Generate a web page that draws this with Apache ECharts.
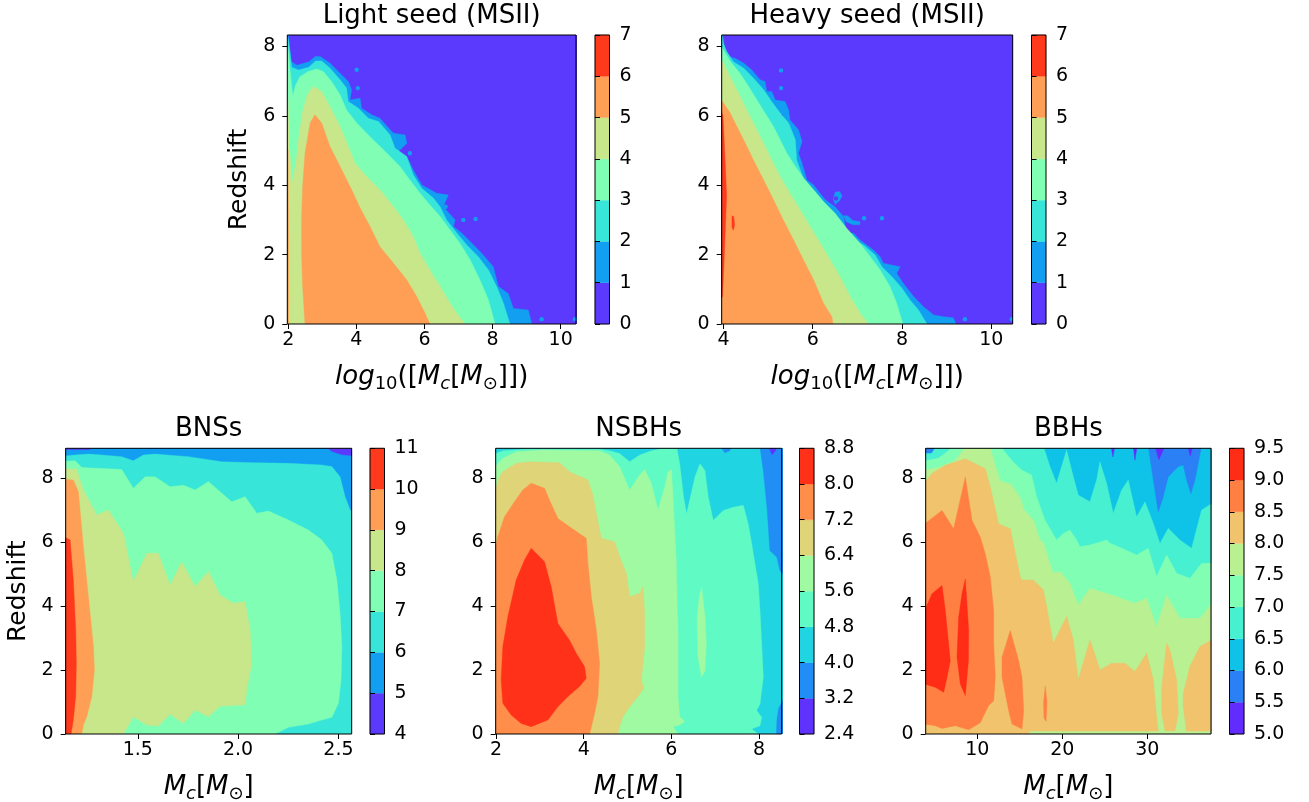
<!DOCTYPE html>
<html><head><meta charset="utf-8">
<script src="https://cdn.jsdelivr.net/npm/echarts@6/dist/echarts.min.js"></script>
<style>html,body{margin:0;padding:0;background:#fff}#c{width:1309px;height:802px}</style>
</head><body><div id="c"></div>
<script>
// ---------- colour scales (matplotlib "rainbow", sampled per band) ----------
const rain7 = ['#5b39fd','#129ff1','#37e6d8','#80ffb4','#c8e68a','#ff9f55','#ff391c'];
const rain8 = ['#6032fe','#208ef4','#20d4e1','#60fac5','#9ffaa2','#dfd478','#ff8e4a','#ff3219'];
const rain9 = ['#632cfe','#2b80f6','#0ec3e7','#47f0d1','#80ffb4','#b8f092','#f1c36c','#ff8042','#ff2c16'];

// ---------- contour levels (colour-bar ticks) ----------
const topLevels  = [0,1,2,3,4,5,6,7];
const bnsLevels  = [4,5,6,7,8,9,10,11];
const nsbhLevels = [2.4,3.2,4.0,4.8,5.6,6.4,7.2,8.0,8.8];
const bbhLevels  = [5.0,5.5,6.0,6.5,7.0,7.5,8.0,8.5,9.0,9.5];

// ---------- axis ranges and tick labels ----------
const lightXRange = [1.97,10.45], heavyXRange = [3.96,10.48], topYRange = [0,8.33];
const bnsXRange = [1.141,2.566], nsbhXRange = [1.99,8.52], bbhXRange = [3.93,37.5], botYRange = [0,8.92];
const lightXTicks = [2,4,6,8,10];
const heavyXTicks = [4,6,8,10];
const bnsXTicks   = [1.5,2.0,2.5];
const nsbhXTicks  = [2,4,6,8];
const bbhXTicks   = [10,20,30];
const topYTicks   = [0,2,4,6,8];
const botYTicks   = [0,2,4,6,8];

// ---------- Light seed (MSII): superlevel-set boundaries [log10 Mc, z] ----------
const light_ge1 = [[1.9,8.4],[2.0,8.33],[2.09,7.56],[2.26,7.46],[2.61,7.56],[2.80,7.72],[2.95,7.70],[3.22,7.52],[3.57,7.18],[3.76,6.99],[3.86,6.75],[3.81,6.46],[4.11,6.51],[4.15,6.22],[4.45,6.03],[4.69,5.93],[4.99,5.60],[5.09,5.50],[5.43,5.45],[5.48,5.21],[5.18,4.92],[5.53,4.73],[5.67,4.44],[5.92,4.01],[6.36,3.77],[6.70,3.72],[6.55,3.38],[6.90,3.00],[6.85,2.81],[7.09,2.62],[7.34,2.38],[7.68,2.04],[8.02,1.65],[8.17,1.08],[8.46,0.88],[8.61,0.45],[9.05,0.40],[9.15,0],[1.9,0]];
const light_ge2 = [[1.9,8.4],[2.0,8.2],[2.1,7.4],[2.3,7.32],[2.6,7.4],[2.80,7.58],[2.98,7.58],[3.22,7.38],[3.52,7.04],[3.71,6.8],[3.76,6.41],[4.06,6.22],[4.35,5.93],[4.65,5.84],[4.99,5.45],[5.13,5.07],[5.48,4.83],[5.67,4.3],[5.92,3.91],[6.26,3.63],[6.46,3.38],[6.65,3.0],[6.95,2.62],[7.24,2.28],[7.58,1.94],[7.88,1.56],[8.12,1.08],[8.32,0.6],[8.51,0],[1.9,0]];
const light_ge3 = [[1.9,8.1],[1.99,8.0],[2.05,7.33],[2.13,6.56],[2.2,6.85],[2.34,7.13],[2.59,7.28],[2.83,7.35],[3.03,7.28],[3.27,6.99],[3.52,6.61],[3.71,6.17],[4.01,5.79],[4.35,5.45],[4.69,5.12],[4.99,4.83],[5.28,4.54],[5.57,4.15],[5.87,3.77],[6.16,3.43],[6.46,3.10],[6.75,2.71],[7.04,2.33],[7.34,1.85],[7.63,1.27],[7.88,0.69],[8.07,0],[1.9,0]];
const light_ge4 = [[1.9,6.6],[1.99,6.5],[2.04,5.0],[2.12,4.06],[2.22,4.63],[2.31,5.40],[2.41,6.08],[2.56,6.61],[2.73,6.85],[2.98,6.70],[3.22,6.27],[3.52,5.69],[3.76,5.12],[3.96,4.63],[4.30,4.25],[4.69,3.87],[5.09,3.38],[5.38,3.0],[5.67,2.52],[5.87,2.04],[6.16,1.56],[6.46,1.08],[6.75,0.6],[6.95,0.31],[7.19,0],[1.9,0]];
const light_ge5 = [[2.49,0],[2.42,1.08],[2.39,2.04],[2.39,3.0],[2.42,3.96],[2.49,4.92],[2.64,5.79],[2.78,6.03],[2.98,5.79],[3.22,5.12],[3.52,4.54],[3.86,3.87],[4.11,3.34],[4.40,2.81],[4.69,2.23],[5.09,1.75],[5.48,1.27],[5.77,0.79],[5.97,0.40],[6.16,0]];
const light_ge5_edge = [[1.9,0],[2.01,0],[2.01,2.5],[1.995,5.0],[1.9,5.3]];
const light_blue_dots = [[4.01,7.33],[4.04,6.80],[5.57,4.92],[6.62,3.38],[7.14,3.0],[7.5,3.03],[8.22,0.67],[9.44,0.14],[10.42,0.14]];
const light_purple_dots = [[4.55,5.79]];

// ---------- Heavy seed (MSII) ----------
const heavy_ge1 = [[3.9,8.4],[3.985,8.34],[4.04,7.81],[4.11,7.71],[4.26,7.66],[4.45,7.52],[4.63,7.33],[4.82,7.04],[4.93,6.99],[4.97,6.70],[5.08,6.70],[5.16,6.46],[5.38,6.41],[5.46,6.17],[5.49,5.88],[5.68,5.60],[5.76,5.26],[5.68,4.92],[5.76,4.63],[5.87,4.15],[6.02,4.01],[6.13,3.82],[6.28,3.58],[6.50,3.38],[6.69,3.10],[6.76,2.62],[6.91,2.62],[7.06,2.42],[7.36,2.13],[7.51,1.94],[7.58,1.75],[7.96,1.65],[7.88,1.46],[8.03,1.17],[8.26,0.79],[8.48,0.5],[8.71,0.26],[8.93,0.21],[9.15,0.18],[9.21,0],[3.9,0]];
const heavy_blob1 = [[6.46,3.6],[6.5,3.8],[6.6,3.82],[6.66,3.7],[6.6,3.55],[6.5,3.45]];
const heavy_blob2 = [[6.69,3.12],[6.78,3.12],[6.9,2.98],[7.06,2.95],[7.05,2.86],[6.9,2.86],[6.75,2.95]];
const heavy_ge2 = [[3.9,8.4],[3.97,8.3],[4.0,8.08],[4.07,7.86],[4.22,7.56],[4.45,7.38],[4.67,7.09],[4.90,6.75],[5.08,6.41],[5.27,6.08],[5.46,5.79],[5.61,5.31],[5.64,4.73],[5.79,4.2],[5.98,3.87],[6.17,3.58],[6.39,3.24],[6.65,2.90],[6.84,2.47],[7.14,2.28],[7.40,1.99],[7.55,1.65],[7.77,1.37],[8.0,1.03],[8.18,0.69],[8.37,0.40],[8.56,0],[3.9,0]];
const heavy_ge3 = [[3.9,8.1],[4.0,7.9],[4.15,7.57],[4.37,7.23],[4.56,6.85],[4.75,6.46],[4.93,6.08],[5.12,5.69],[5.27,5.31],[5.42,4.92],[5.61,4.54],[5.83,4.15],[6.02,3.87],[6.24,3.53],[6.50,3.19],[6.76,2.76],[7.06,2.33],[7.29,1.94],[7.51,1.56],[7.73,1.08],[7.88,0.6],[8.02,0],[3.9,0]];
const heavy_ge4 = [[3.9,7.7],[4.0,7.52],[4.15,7.13],[4.34,6.65],[4.52,6.17],[4.71,5.69],[4.90,5.21],[5.08,4.73],[5.27,4.25],[5.49,3.77],[5.72,3.29],[5.94,2.81],[6.17,2.33],[6.39,1.85],[6.61,1.37],[6.84,0.79],[7.06,0.31],[7.25,0],[3.9,0]];
const heavy_ge5 = [[3.9,6.5],[4.0,6.37],[4.15,6.08],[4.30,5.69],[4.49,5.21],[4.67,4.73],[4.90,4.15],[5.12,3.58],[5.34,3.0],[5.57,2.42],[5.79,1.85],[6.02,1.27],[6.24,0.6],[6.43,0.21],[6.45,0],[3.9,0]];
const heavy_ge6 = [[3.9,6.3],[3.99,6.0],[4.04,4.6],[4.07,3.7],[4.04,2.7],[4.01,1.7],[3.98,0.8],[3.9,0.6]];
const heavy_ge6_blob = [[4.19,3.12],[4.23,3.1],[4.25,2.85],[4.22,2.7],[4.19,2.78]];
const heavy_blue_dots = [[5.29,7.31],[5.29,6.80],[7.15,3.05],[7.55,3.05],[8.22,0.66],[9.41,0.14],[10.46,0.14]];
const heavy_purple_dots = [[5.29,5.98],[6.52,3.62]];

// ---------- BNSs [Mc, z] ----------
const bns_ge5 = [[1.1,0],[1.1,8.87],[1.26,8.87],[1.29,9.0],[2.43,9.0],[2.467,8.81],[2.517,8.71],[2.6,8.66],[2.6,0]];
const bns_ge6 = [[1.1,0],[1.1,8.66],[1.188,8.71],[1.254,8.74],[1.321,8.71],[1.420,8.66],[1.478,8.53],[1.528,8.71],[1.586,8.74],[1.752,8.66],[1.919,8.50],[2.085,8.47],[2.251,8.45],[2.417,8.40],[2.467,8.35],[2.508,8.03],[2.533,7.41],[2.558,6.99],[2.6,6.85],[2.6,0]];
const bns_ge7 = [[1.1,0],[1.1,8.50],[1.188,8.53],[1.221,8.32],[1.420,8.26],[1.478,7.67],[1.537,8.03],[1.586,8.03],[1.661,7.72],[1.728,7.77],[1.786,7.62],[1.852,7.88],[1.968,7.25],[2.035,7.41],[2.093,6.89],[2.151,6.96],[2.251,6.68],[2.350,6.37],[2.417,6.06],[2.467,5.64],[2.492,4.81],[2.508,3.77],[2.517,2.73],[2.513,1.69],[2.500,0.96],[2.467,0.52],[2.417,0.44],[2.350,0.31],[2.251,0.21],[2.184,0]];
const bns_ge8 = [[1.1,0],[1.1,8.32],[1.196,8.26],[1.229,7.62],[1.296,6.84],[1.354,6.99],[1.429,6.26],[1.478,4.76],[1.545,5.64],[1.603,5.64],[1.661,4.65],[1.719,5.38],[1.786,4.60],[1.852,5.07],[1.910,4.34],[1.977,4.08],[2.035,4.13],[2.060,3.25],[2.068,2.21],[2.043,1.37],[2.035,0.91],[1.910,0.87],[1.852,0.54],[1.786,0.75],[1.728,0.33],[1.661,0.62],[1.603,0.25],[1.545,0.28],[1.478,0.54],[1.429,0]];
const bns_ge9 = [[1.1,0],[1.1,7.98],[1.179,7.93],[1.204,7.57],[1.229,5.85],[1.254,4.29],[1.279,2.73],[1.284,2.00],[1.271,1.17],[1.246,0.54],[1.229,0.28],[1.221,0]];
const bns_ge10 = [[1.1,0],[1.1,6.26],[1.163,6.06],[1.179,4.81],[1.191,3.25],[1.194,2.21],[1.191,1.17],[1.179,0.44],[1.168,0]];

// ---------- NSBHs ----------
const nsbh_lt40_a = [[8.02,9.0],[8.10,8.23],[8.19,6.98],[8.25,5.73],[8.41,5.52],[8.48,5.10],[8.6,4.9],[8.6,9.0]];
const nsbh_lt40_b = [[8.6,1.2],[8.45,0.8],[8.41,0.42],[8.40,0],[8.6,0]];
const nsbh_lt40_c = [[7.107,9.0],[7.221,8.78],[7.335,8.84],[7.373,9.0]];
const nsbh_lt32 = [[8.22,9.0],[8.30,8.72],[8.38,8.85],[8.41,9.0]];
const nsbh_ge48 = [[1.9,0],[1.9,8.71],[2.152,8.84],[2.686,8.89],[4.363,8.89],[4.591,8.84],[4.820,8.76],[5.049,8.50],[5.277,8.71],[5.544,8.84],[6.116,9.0],[6.19,8.45],[6.28,7.41],[6.348,6.875],[6.538,8.02],[6.652,8.44],[6.767,8.23],[6.843,7.40],[6.957,6.67],[7.186,6.98],[7.414,7.08],[7.643,7.14],[7.757,6.56],[7.835,5.94],[7.911,5.31],[7.986,4.69],[8.025,3.85],[8.064,2.81],[8.10,1.77],[8.025,0.94],[7.95,0.73],[8.064,0.52],[8.025,0.26],[7.835,0.16],[7.986,0]];
const nsbh_ge56 = [[1.9,0],[1.9,8.24],[2.152,8.61],[2.457,8.81],[3.067,8.87],[4.363,8.84],[4.591,8.71],[4.820,8.35],[5.049,7.62],[5.277,8.09],[5.392,8.26],[5.544,7.83],[5.697,6.99],[5.849,7.72],[5.925,8.19],[6.002,8.26],[6.040,7.41],[6.078,6.37],[6.116,5.33],[6.131,4.29],[6.154,3.25],[6.154,2.21],[6.154,1.17],[6.192,0.54],[6.306,0.39],[6.192,0.28],[6.040,0.23],[6.154,0]];
const nsbh_ge56_island = [[6.69,4.58],[6.77,3.65],[6.80,2.81],[6.77,1.98],[6.69,1.77],[6.61,2.40],[6.59,3.65],[6.64,4.27]];
const nsbh_ge64 = [[1.9,0],[1.9,7.30],[2.076,8.03],[2.152,8.19],[2.457,8.45],[2.762,8.50],[3.448,8.47],[3.677,8.19],[4.096,7.93],[4.210,7.46],[4.287,6.89],[4.401,6.11],[4.706,6.00],[4.820,5.54],[4.973,5.02],[5.049,4.29],[5.277,4.39],[5.354,4.60],[5.392,3.77],[5.392,2.73],[5.316,1.69],[5.369,1.43],[5.239,1.17],[5.049,0.85],[4.896,0.54],[4.820,0.23],[4.782,0]];
const nsbh_ge72 = [[1.9,0],[1.9,5.33],[2.038,6.16],[2.191,6.78],[2.419,7.25],[2.610,7.62],[2.800,7.83],[3.105,7.67],[3.220,7.30],[3.410,6.73],[3.677,6.47],[4.058,6.11],[4.096,5.33],[4.172,4.29],[4.287,3.25],[4.363,2.21],[4.325,1.17],[4.248,0.65],[4.134,0]];
const nsbh_ge80 = [[2.800,5.80],[3.105,5.38],[3.258,4.60],[3.410,3.45],[3.677,2.93],[3.829,2.52],[4.020,2.10],[4.058,1.74],[3.905,1.48],[3.639,1.17],[3.410,0.85],[3.181,0.44],[2.800,0.23],[2.572,0.33],[2.343,0.59],[2.152,0.96],[2.114,1.69],[2.152,2.73],[2.267,3.66],[2.457,4.81],[2.648,5.43]];

// ---------- BBHs ----------
const bbh_lt60_a = [[30.12,9.0],[30.59,8.14],[31.29,6.94],[31.88,7.41],[32.47,8.03],[33.65,8.35],[34.24,8.40],[34.63,7.93],[35.14,7.51],[35.61,7.93],[36.0,8.45],[36.39,9.0]];
const bbh_lt60_b = [[3.8,9.0],[3.8,8.78],[4.6,8.78],[5.2,9.0]];
const bbh_lt55_a = [[30.9,9.0],[31.37,8.56],[31.88,8.87],[32.0,9.0]];
const bbh_lt55_b = [[34.75,9.0],[35.06,8.68],[35.37,9.0]];
const bbh_lt55_c = [[25.73,9.0],[25.96,8.65],[26.2,9.0]];
const bbh_lt55_d = [[28.35,9.0],[28.55,8.55],[28.82,9.0]];
const bbh_ge65 = [[3.8,0],[3.8,8.75],[4.63,8.76],[5.22,9.0],[17.76,9.0],[18.55,8.35],[19.33,7.83],[19.92,8.35],[20.51,8.87],[21.10,8.24],[21.88,7.46],[23.25,7.25],[24.04,7.93],[24.43,8.50],[25.22,7.83],[26.0,6.89],[26.98,7.62],[27.76,7.93],[28.75,6.78],[29.73,7.25],[30.71,6.58],[31.49,5.95],[32.47,6.42],[33.84,6.06],[35.22,5.80],[36.39,6.99],[37.6,7.20],[37.6,0]];
const bbh_ge70 = [[3.8,0],[3.8,8.53],[5.41,8.61],[6.59,8.84],[7.18,9.0],[12.67,9.0],[14.04,8.55],[15.22,8.24],[16.39,8.09],[16.98,7.41],[17.96,6.68],[19.33,6.06],[20.12,6.26],[20.90,6.37],[21.69,6.06],[22.08,5.85],[23.26,5.9],[25.22,6.06],[25.6,5.96],[27.0,5.8],[28.75,5.59],[30.12,5.80],[31.1,4.92],[32.28,5.59],[33.46,5.02],[35.02,4.86],[36.4,5.33],[37.6,5.33],[37.6,0]];
const bbh_ge75 = [[3.8,0],[3.8,8.24],[5.41,8.32],[7.37,8.53],[8.35,8.87],[8.55,9.0],[11.5,9.0],[12.1,8.4],[12.7,7.9],[14.0,7.8],[15.1,7.35],[15.5,7.0],[16.6,6.68],[17.37,6.06],[17.76,6.0],[18.94,5.02],[19.73,5.07],[20.9,4.71],[21.88,4.03],[23.26,4.55],[24.44,4.45],[26.4,4.29],[27.38,4.19],[28.55,4.08],[29.93,4.24],[31.1,3.35],[32.28,4.34],[33.85,3.61],[36.2,3.61],[37.6,4.08],[37.6,0]];
const bbh_ge80 = [[3.8,0],[3.8,7.85],[4.67,8.13],[6.24,8.39],[8.59,8.59],[10.94,8.28],[11.53,7.71],[12.51,6.56],[13.88,6.41],[15.06,4.90],[15.22,4.81],[16.59,4.81],[17.76,4.5],[18.16,3.98],[18.94,2.83],[20.52,3.67],[21.29,2.94],[21.88,1.69],[23.26,2.94],[24.44,2.0],[25.81,2.21],[27.38,2.21],[28.55,1.95],[29.93,2.52],[30.71,1.69],[31.1,0.54],[31.3,0.09],[16.2,0.09],[16.0,0]];
const bbh_ge80_lobeA = [[31.88,1.90],[32.28,2.83],[32.67,2.63],[33.46,1.69],[33.65,0.65],[33.26,0.1],[32.08,0.1],[31.69,0.65],[31.69,1.4]];
const bbh_ge80_lobeB = [[34.24,1.27],[35.02,2.11],[36.2,2.73],[37.6,2.94],[37.6,0.09],[34.6,0.09],[34.24,0.85]];
const bbh_ge85 = [[3.8,0.31],[3.8,6.56],[5.85,6.98],[7.22,6.41],[8.59,8.02],[9.38,6.67],[10.35,6.15],[10.94,5.63],[11.53,4.9],[11.93,3.85],[11.93,2.81],[12.12,1.77],[11.93,1.04],[11.34,0.89],[10.35,0.35],[8.99,0.13],[7.41,0.26],[5.85,0.17],[5.06,0.26]];
const bbh_ge85_lobe = [[13.88,3.23],[14.87,2.29],[15.26,1.77],[15.46,0.73],[15.26,0.16],[14.08,0.31],[13.69,0.73],[12.91,1.77],[12.91,2.40]];
const bbh_ge85_spike = [[18.0,1.5],[18.2,1.0],[18.1,0.4],[17.85,0.5],[17.8,1.0]];
const bbh_ge90_a = [[3.8,3.85],[4.67,4.38],[5.85,4.64],[6.24,3.85],[6.63,2.81],[6.82,2.29],[6.44,1.77],[6.05,1.30],[5.06,1.46],[3.8,1.56]];
const bbh_ge90_b = [[8.59,4.84],[8.99,3.23],[8.96,2.29],[8.59,1.20],[8.0,1.56],[7.61,2.40],[7.81,3.65],[8.2,4.38]];

// ---------- layer stacks (drawn bottom to top; c = colour band index) ----------
const lightLayers = [{c:0,full:true},{c:1,poly:light_ge1},{c:1,dots:light_blue_dots},{c:0,dots:light_purple_dots},{c:2,poly:light_ge2},{c:3,poly:light_ge3},{c:4,poly:light_ge4},{c:5,poly:light_ge5},{c:5,poly:light_ge5_edge}];
const heavyLayers = [{c:0,full:true},{c:1,poly:heavy_ge1},{c:1,poly:heavy_blob1},{c:1,poly:heavy_blob2},{c:1,dots:heavy_blue_dots},{c:0,dots:heavy_purple_dots},{c:2,poly:heavy_ge2},{c:3,poly:heavy_ge3},{c:4,poly:heavy_ge4},{c:5,poly:heavy_ge5},{c:6,poly:heavy_ge6},{c:6,poly:heavy_ge6_blob}];
const bnsLayers = [{c:0,full:true},{c:1,poly:bns_ge5},{c:2,poly:bns_ge6},{c:3,poly:bns_ge7},{c:4,poly:bns_ge8},{c:5,poly:bns_ge9},{c:6,poly:bns_ge10}];
const nsbhLayers = [{c:2,full:true},{c:1,poly:nsbh_lt40_a},{c:1,poly:nsbh_lt40_b},{c:1,poly:nsbh_lt40_c},{c:0,poly:nsbh_lt32},{c:3,poly:nsbh_ge48},{c:4,poly:nsbh_ge56},{c:4,poly:nsbh_ge56_island},{c:5,poly:nsbh_ge64},{c:6,poly:nsbh_ge72},{c:7,poly:nsbh_ge80}];
const bbhLayers = [{c:2,full:true},{c:1,poly:bbh_lt60_a},{c:1,poly:bbh_lt60_b},{c:0,poly:bbh_lt55_a},{c:0,poly:bbh_lt55_b},{c:0,poly:bbh_lt55_c},{c:0,poly:bbh_lt55_d},{c:3,poly:bbh_ge65},{c:4,poly:bbh_ge70},{c:5,poly:bbh_ge75},{c:6,poly:bbh_ge80},{c:6,poly:bbh_ge80_lobeA},{c:6,poly:bbh_ge80_lobeB},{c:7,poly:bbh_ge85},{c:7,poly:bbh_ge85_lobe},{c:7,poly:bbh_ge85_spike},{c:8,poly:bbh_ge90_a},{c:8,poly:bbh_ge90_b}];

// ---------- layout ----------
const FONT = 'DejaVu Sans';
const fmt1 = v => Number(v).toFixed(1);
const panels = [
  {title:'Light seed (MSII)', xr:lightXRange, yr:topYRange, xt:lightXTicks, yt:topYTicks, lv:topLevels, col:rain7, layers:lightLayers,
   grid:{left:287.3, top:35, width:288.7, height:289}, cbLeft:595, ylabel:true, xl:'log', xfmt:null, cfmt:null},
  {title:'Heavy seed (MSII)', xr:heavyXRange, yr:topYRange, xt:heavyXTicks, yt:topYTicks, lv:topLevels, col:rain7, layers:heavyLayers,
   grid:{left:721.7, top:35, width:291, height:289}, cbLeft:1031.5, ylabel:false, xl:'log', xfmt:null, cfmt:null},
  {title:'BNSs', xr:bnsXRange, yr:botYRange, xt:bnsXTicks, yt:botYTicks, lv:bnsLevels, col:rain7, layers:bnsLayers,
   grid:{left:65.7, top:448.3, width:286, height:285.7}, cbLeft:370, ylabel:true, xl:'mc', xfmt:fmt1, cfmt:null},
  {title:'NSBHs', xr:nsbhXRange, yr:botYRange, xt:nsbhXTicks, yt:botYTicks, lv:nsbhLevels, col:rain8, layers:nsbhLayers,
   grid:{left:495.7, top:448.3, width:286, height:285.7}, cbLeft:799.5, ylabel:false, xl:'mc', xfmt:null, cfmt:fmt1},
  {title:'BBHs', xr:bbhXRange, yr:botYRange, xt:bbhXTicks, yt:botYTicks, lv:bbhLevels, col:rain9, layers:bbhLayers,
   grid:{left:925.7, top:448.3, width:285.3, height:285.7}, cbLeft:1229.5, ylabel:false, xl:'mc', xfmt:null, cfmt:fmt1}
];

const grids = [], xAxes = [], yAxes = [], series = [], graphics = [];
const labelStyle = {fontSize:19, fontFamily:FONT, color:'#000'};
const tickStyle = {color:'#000', width:1};

panels.forEach((p) => {
  // main plot
  const gi = grids.length;
  grids.push(Object.assign({show:true, borderColor:'#000', borderWidth:1, backgroundColor:'rgba(0,0,0,0)', z:10}, p.grid));
  xAxes.push({type:'value', gridIndex:gi, min:p.xr[0], max:p.xr[1], axisLine:{show:false}, splitLine:{show:false},
    axisTick:{show:true, length:5, customValues:p.xt, lineStyle:tickStyle},
    axisLabel:Object.assign({show:true, customValues:p.xt, margin:7, formatter:p.xfmt || (v => String(v))}, labelStyle), z:11});
  yAxes.push({type:'value', gridIndex:gi, min:p.yr[0], max:p.yr[1], axisLine:{show:false}, splitLine:{show:false},
    axisTick:{show:true, length:5, customValues:p.yt, lineStyle:tickStyle},
    axisLabel:Object.assign({show:true, customValues:p.yt, margin:12, formatter:v => String(v)}, labelStyle), z:11,
    name: p.ylabel ? 'Redshift' : '', nameLocation:'middle', nameGap:35,
    nameTextStyle:{fontSize:25, fontFamily:FONT, color:'#000'}});
  const items = [];
  p.layers.forEach(L => {
    if (L.full) items.push({c:L.c, poly:[[p.xr[0]-1,p.yr[0]-1],[p.xr[1]+1,p.yr[0]-1],[p.xr[1]+1,p.yr[1]+1],[p.xr[0]-1,p.yr[1]+1]]});
    else if (L.dots) L.dots.forEach(d => items.push({c:L.c, dot:d}));
    else items.push({c:L.c, poly:L.poly});
  });
  const cols = p.col;
  series.push({type:'custom', xAxisIndex:gi, yAxisIndex:gi, clip:true, silent:true, animation:false,
    data: items.map(it => it.dot ? [it.dot[0], it.dot[1]] : [it.poly[0][0], it.poly[0][1]]),
    renderItem: (params, api) => {
      const it = items[params.dataIndex];
      const fill = cols[it.c];
      if (it.dot) {
        const q = api.coord(it.dot);
        return {type:'circle', shape:{cx:q[0], cy:q[1], r:2.2}, style:{fill:fill}};
      }
      return {type:'polygon', shape:{points: it.poly.map(pt => api.coord(pt))}, style:{fill:fill, stroke:fill, lineWidth:0.4}};
    }});

  // colour bar
  const ci = grids.length;
  grids.push({show:true, borderColor:'#000', borderWidth:1, backgroundColor:'rgba(0,0,0,0)', z:10,
    left:p.cbLeft, top:p.grid.top, width:14.5, height:p.grid.height});
  xAxes.push({type:'value', gridIndex:ci, min:0, max:1, show:false});
  yAxes.push({type:'value', gridIndex:ci, position:'right', min:p.lv[0], max:p.lv[p.lv.length-1],
    axisLine:{show:false}, splitLine:{show:false},
    axisTick:{show:true, length:5, customValues:p.lv, lineStyle:tickStyle},
    axisLabel:Object.assign({show:true, customValues:p.lv, margin:10, formatter:p.cfmt || (v => String(Math.round(v)))}, labelStyle), z:11});
  const bins = p.lv.slice(0,-1).map((lo,i) => [0.5, lo, p.lv[i+1], i]);
  series.push({type:'custom', xAxisIndex:ci, yAxisIndex:ci, silent:true, animation:false, data:bins,
    renderItem: (params, api) => {
      const b = bins[params.dataIndex];
      const a = api.coord([0, b[1]]), c = api.coord([1, b[2]]);
      return {type:'rect', shape:{x:a[0], y:c[1], width:c[0]-a[0], height:a[1]-c[1]}, style:{fill:cols[b[3]], stroke:cols[b[3]], lineWidth:0.3}};
    }});

  // title
  const cx = p.grid.left + p.grid.width/2;
  graphics.push({type:'text', x:cx, y:p.grid.top - 19, style:{text:p.title, fontSize:26, fontFamily:FONT, fill:'#000', align:'center', verticalAlign:'middle'}});
  // x label (math text)
  const rich = {
    i:{fontSize:26, fontStyle:'italic', fontFamily:FONT, fill:'#000', lineHeight:32, verticalAlign:'middle'},
    n:{fontSize:26, fontFamily:FONT, fill:'#000', lineHeight:32, verticalAlign:'middle'},
    s:{fontSize:18, fontFamily:FONT, fill:'#000', lineHeight:18, verticalAlign:'bottom'},
    si:{fontSize:18, fontStyle:'italic', fontFamily:FONT, fill:'#000', lineHeight:18, verticalAlign:'bottom'}
  };
  const txt = p.xl === 'log' ? '{i|log}{s|10}{n|([}{i|M}{si|c}{n|[}{i|M}{s|⊙}{n|]])}' : '{i|M}{si|c}{n|[}{i|M}{s|⊙}{n|]}';
  graphics.push({type:'text', x:cx, y:p.grid.top + p.grid.height + 53, style:{text:txt, rich:rich, align:'center', verticalAlign:'middle', fontFamily:FONT, fontSize:26, fill:'#000'}});
});

const chart = echarts.init(document.getElementById('c'), null, {renderer:'canvas'});
chart.setOption({animation:false, backgroundColor:'#fff', grid:grids, xAxis:xAxes, yAxis:yAxes, series:series, graphic:graphics});
</script>
</body></html>
